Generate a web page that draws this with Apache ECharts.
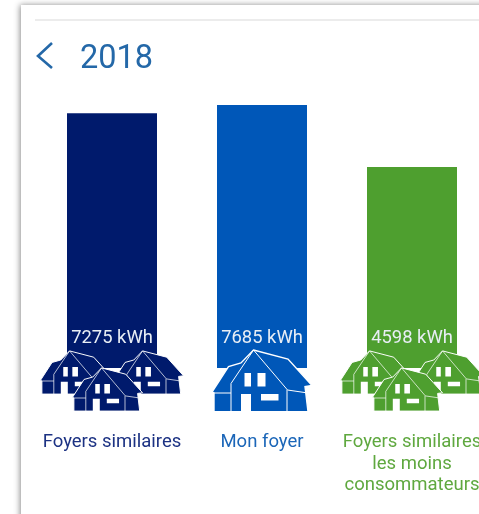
<!DOCTYPE html>
<html>
<head>
<meta charset="utf-8">
<style>
  html, body { margin: 0; padding: 0; background: #fff; overflow: hidden; }
  #chart { width: 479px; height: 514px; filter: blur(0.7px); }
</style>
<script src="https://cdn.jsdelivr.net/npm/echarts@6/dist/echarts.min.js"></script>
</head>
<body>
<div id="chart"></div>
<script>
const year = '2018';
const categories = ['Foyers similaires', 'Mon foyer', 'Foyers similaires\nles moins\nconsommateurs'];
const values = [7275, 7685, 4598];
const barColors = ['#001A6C', '#0057B8', '#4E9F2F'];
const textColors = ['#1C3283', '#1B66B8', '#5FA83F'];
// the bars sit on a hidden baseline well under zero, a plain bar series would start at 0
const axisMin = -5400;
const axisMax = 7685;
const barWidth = 90;

// one house, px around the foot of the bar
const houseBody = 'M-8.5,-18 L26,-9 L50,17.5 L43,18.5 L46,43.7 L-48,43.7 L-48,25 L-50,24 L-33.5,-1.5 L-21,-5 Z';
const houseLines = 'M-8.5,-18 L25.5,22 L46,25 M-50,25 L-31,25 L-31,43.7 M-8.5,-18 L-31,15.5 L-31,25 M25,22 L25,43.7';
const houseHoles = 'M-21,26 L-11,26 L-11,43.7 L-21,43.7 Z M-17.5,5 L-11,5 L-11,18.5 L-17.5,18.5 Z M-4.5,5 L3.5,5 L3.5,18.5 L-4.5,18.5 Z M-1,26 L16.5,26 L16.5,32.5 L-1,32.5 Z';
const singleHouse = [{ x: 0, y: 0, s: 1 }];
const houseGroup = [
  { x: -36.5, y: -4.5, s: 0.7 },
  { x: 36.5, y: -4.5, s: 0.7 },
  { x: -4.5, y: 12.5, s: 0.7 },
];
const houseLayouts = [houseGroup, singleHouse, houseGroup];

const drawHouse = (cx, cy, h, color) => {
  const place = { x: cx + h.x, y: cy + h.y, scaleX: h.s, scaleY: h.s };
  return {
    type: 'group',
    children: [
      {
        type: 'path',
        ...place,
        shape: { pathData: houseBody, layout: 'none' },
        style: { fill: color, stroke: '#fff', lineWidth: 1.4 },
      },
      {
        type: 'path',
        ...place,
        shape: { pathData: houseLines, layout: 'none' },
        style: { fill: 'none', stroke: '#fff', lineWidth: 1 },
      },
      {
        type: 'path',
        ...place,
        shape: { pathData: houseHoles, layout: 'none' },
        style: { fill: '#fff' },
      },
    ],
  };
};

const myChart = echarts.init(document.getElementById('chart'));

myChart.setOption({
  animation: false,
  backgroundColor: '#fff',
  title: {
    text: year,
    left: 75,
    top: 38,
    textStyle: {
      fontFamily: 'Roboto',
      fontSize: 32.5,
      fontWeight: 'normal',
      color: '#2468A8',
    },
  },
  grid: { left: 37, top: 105, width: 450, height: 263, outerBoundsMode: 'none' },
  xAxis: {
    type: 'category',
    data: categories,
    axisLine: { show: false },
    axisTick: { show: false },
    axisLabel: {
      interval: 0,
      margin: 64,
      fontFamily: 'Roboto',
      fontSize: 18.5,
      lineHeight: 21.5,
      overflow: 'none',
      color: (value, index) => textColors[index],
    },
  },
  yAxis: {
    type: 'value',
    min: axisMin,
    max: axisMax,
    show: false,
  },
  series: [
    {
      type: 'custom',
      data: values.map((v, i) => [i, v]),
      encode: { x: 0, y: 1 },
      clip: false,
      renderItem(params, api) {
        const i = api.value(0);
        const v = api.value(1);
        const top = api.coord([i, v]);
        const foot = api.coord([i, axisMin]);
        return {
          type: 'group',
          children: [
            {
              type: 'rect',
              shape: {
                x: foot[0] - barWidth / 2,
                y: top[1],
                width: barWidth,
                height: foot[1] - top[1],
              },
              style: { fill: barColors[i] },
            },
            {
              type: 'text',
              x: foot[0],
              y: foot[1] - 30,
              style: {
                text: `${v} kWh`,
                align: 'center',
                verticalAlign: 'middle',
                fontFamily: 'Roboto',
                fontSize: 18.4,
                fill: '#E8EEF5',
              },
            },
            ...houseLayouts[i].map((h) => drawHouse(foot[0], foot[1], h, barColors[i])),
          ],
        };
      },
    },
  ],
  graphic: [
    {
      type: 'rect',
      z: -10,
      silent: true,
      shape: { x: 21, y: 5, width: 500, height: 540 },
      style: { fill: '#fff', shadowBlur: 6, shadowColor: 'rgba(0,0,0,0.45)', shadowOffsetX: -1 },
    },
    {
      type: 'line',
      z: -9,
      silent: true,
      shape: { x1: 35, y1: 20, x2: 479, y2: 20 },
      style: { stroke: '#E6E6E6', lineWidth: 1.5 },
    },
    {
      type: 'polyline',
      silent: true,
      shape: { points: [[52, 43], [38, 56], [52, 68]] },
      style: { fill: 'none', stroke: '#2468A8', lineWidth: 2.6 },
    },
  ],
});
</script>
</body>
</html>
